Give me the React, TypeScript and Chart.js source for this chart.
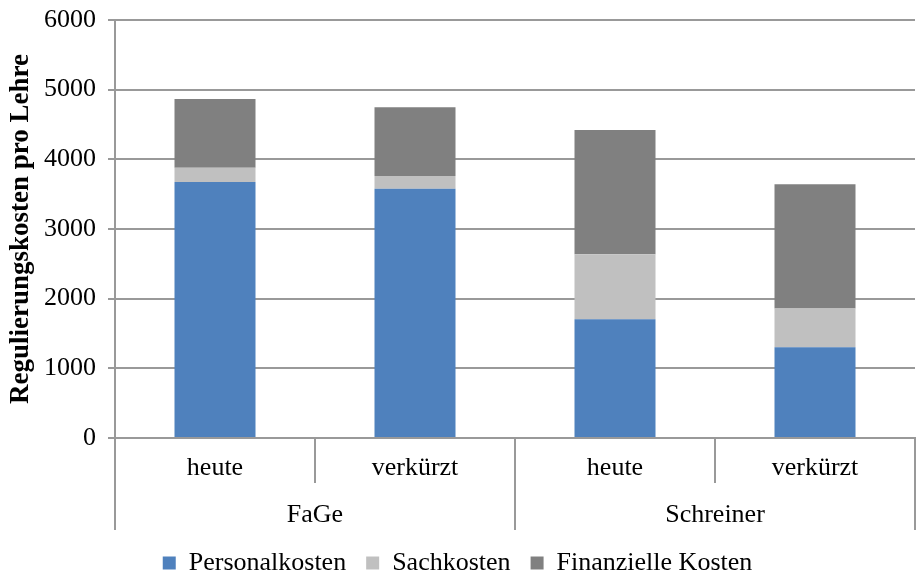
import React, { useEffect, useRef } from "react";
import { Chart, registerables } from "chart.js";
Chart.register(...registerables);

const categories = ["heute", "verkürzt", "heute", "verkürzt"];
const groups = ["FaGe", "Schreiner"];
const groupSizes = [2, 2];
const personalkosten = [3675, 3578, 1705, 1303];
const sachkosten = [205, 182, 934, 556];
const finanzielleKosten = [986, 987, 1782, 1782];
const yTicks = [0, 1000, 2000, 3000, 4000, 5000, 6000];

const FONT = "'Liberation Serif', 'Times New Roman', serif";
const LINE = "#999999";

const groupPlugin = {
  id: "groupLabels",
  afterDraw(chart: any) {
    const x = chart.scales.x;
    const ctx = chart.ctx;
    const top = x.top;
    const bottom = x.bottom;
    const half = (x.getPixelForValue(1) - x.getPixelForValue(0)) / 2;
    ctx.save();
    ctx.strokeStyle = LINE;
    ctx.lineWidth = 2;
    let idx = 0;
    const bounds: number[] = [x.getPixelForValue(0) - half];
    groups.forEach((g, gi) => {
      const start = idx;
      const end = idx + groupSizes[gi] - 1;
      idx += groupSizes[gi];
      bounds.push(x.getPixelForValue(end) + half);
      const cx = (x.getPixelForValue(start) + x.getPixelForValue(end)) / 2;
      ctx.fillStyle = "#000";
      ctx.font = `26px ${FONT}`;
      ctx.textAlign = "center";
      ctx.textBaseline = "middle";
      ctx.fillText(g, cx, top + 77);
    });
    bounds.forEach((b) => {
      const px = Math.round(b);
      ctx.beginPath();
      ctx.moveTo(px, top);
      ctx.lineTo(px, bottom);
      ctx.stroke();
    });
    ctx.restore();
  },
};

export default function App() {
  const ref = useRef<HTMLCanvasElement>(null);
  useEffect(() => {
    document.body.style.margin = "0";
    const chart = new Chart(ref.current!, {
      type: "bar",
      data: {
        labels: categories,
        datasets: [
          { label: "Personalkosten", data: personalkosten, backgroundColor: "#4f81bd" },
          { label: "Sachkosten", data: sachkosten, backgroundColor: "#c0c0c0" },
          { label: "Finanzielle Kosten", data: finanzielleKosten, backgroundColor: "#808080" },
        ],
      },
      options: {
        animation: false,
        responsive: false,
        layout: { padding: { top: 20, right: 1, left: 0, bottom: 0 } },
        datasets: { bar: { categoryPercentage: 1, barPercentage: 0.405 } } as any,
        plugins: {
          legend: {
            position: "bottom",
            maxHeight: 45,
            labels: {
              font: { family: FONT, size: 26 },
              color: "#000",
              boxWidth: 13,
              boxHeight: 13,
              padding: 20,
            },
          } as any,
          tooltip: { enabled: false },
        },
        scales: {
          x: {
            stacked: true,
            offset: true,
            grid: {
              offset: true,
              drawOnChartArea: false,
              drawTicks: true,
              tickLength: 45,
              color: LINE,
              lineWidth: 2,
            },
            border: { color: LINE, width: 2 },
            ticks: {
              font: { family: FONT, size: 26 },
              color: "#000",
              padding: -30,
              maxRotation: 0,
            },
            afterFit(scale: any) {
              scale.height = 92;
            },
          },
          y: {
            stacked: true,
            min: 0,
            max: 6000,
            afterBuildTicks(scale: any) {
              scale.ticks = yTicks.map((v) => ({ value: v }));
            },
            grid: { color: LINE, lineWidth: 2, tickLength: 7 },
            border: { color: LINE, width: 2 },
            ticks: {
              font: { family: FONT, size: 26 },
              color: "#000",
              padding: 12,
              callback: (v: any) => String(v),
            },
            title: {
              display: true,
              text: "Regulierungskosten pro Lehre",
              font: { family: FONT, size: 27, weight: "bold" },
              color: "#000",
              padding: { top: 5, bottom: 0 },
            },
            afterFit(scale: any) {
              scale.width = 115;
              scale.paddingTop = 0;
              scale.paddingBottom = 0;
            },
          },
        },
      },
      plugins: [groupPlugin],
    });
    return () => chart.destroy();
  }, []);
  return <canvas ref={ref} width={916} height={575} style={{ display: "block" }} />;
}
